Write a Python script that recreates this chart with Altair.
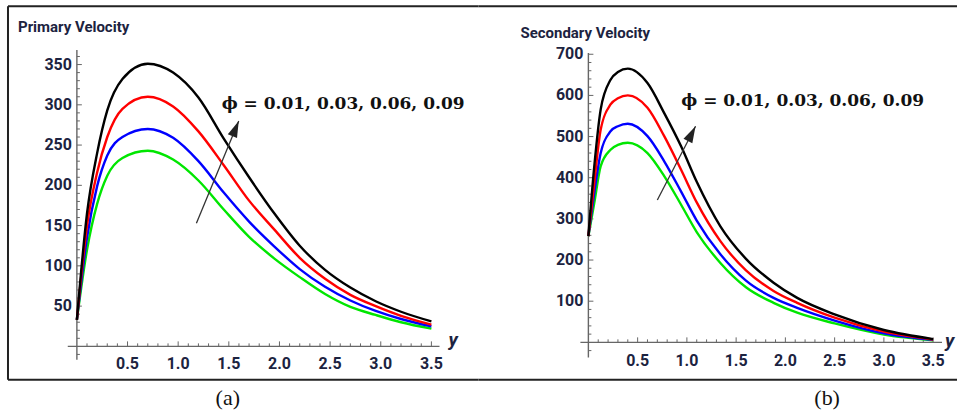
import altair as alt
import pandas as pd

# ---------------- data ----------------
phi_names = ["phi=0.01", "phi=0.03", "phi=0.06", "phi=0.09"]
line_colors = ["#00e600", "#0000ff", "#ff0000", "#000000"]

# Panel (a): Primary velocity
xa = [0, 0.1, 0.2, 0.3, 0.45, 0.7, 0.95, 1.2, 1.45, 1.7, 1.95, 2.2, 2.45, 2.7, 2.95, 3.2, 3.5]
a_green = [33, 120, 177, 212, 234, 243, 232, 206, 170, 136, 109, 86, 65, 49, 39, 30, 22]
a_blue = [33, 135, 199, 237, 260, 270, 259, 230, 191, 155, 124, 96, 74, 57, 44, 34, 25]
a_red = [33, 150, 216, 260, 295, 310, 298, 267, 225, 181, 145, 110, 84, 64, 50, 38, 27]
a_black = [33, 165, 240, 293, 332, 351, 340, 309, 258, 210, 165, 125, 95, 73, 56, 43, 31]

# Panel (b): Secondary velocity
xb = [0, 0.06, 0.125, 0.225, 0.3, 0.4, 0.6, 0.77, 0.94, 1.1, 1.34, 1.6, 1.88, 2.12, 2.5, 3.0, 3.5]
b_green = [258, 339, 428, 468, 480, 485, 460, 404, 335, 268, 193, 134, 96, 72, 46, 19, 5]
b_blue = [258, 363, 460, 513, 525, 531, 501, 440, 367, 296, 214, 150, 108, 84, 53, 22, 6]
b_red = [258, 388, 517, 578, 593, 600, 570, 501, 420, 340, 246, 175, 125, 96, 60, 26, 7]
b_black = [258, 428, 566, 638, 657, 665, 630, 557, 477, 390, 282, 203, 145, 108, 68, 30, 8]

# tick labels
a_yticks = [50, 100, 150, 200, 250, 300, 350]
b_yticks = [100, 200, 300, 400, 500, 600, 700]
x_ticks = [0.5, 1.0, 1.5, 2.0, 2.5, 3.0, 3.5]
a_yminor = [v for v in range(-10, 370, 10) if v % 50 != 0]
b_yminor = [v for v in range(-20, 710, 20) if v % 100 != 0]
x_minor = [round(i / 10, 1) for i in range(1, 36) if i % 5 != 0]

phi_label = "ϕ = 0.01, 0.03, 0.06, 0.09"

NARROW = "Roboto, 'Liberation Sans', sans-serif"
LABC = "#1c2340"
AXC = "#666666"


def long_df(x, series):
    rows = []
    for name, vals in zip(phi_names, series):
        for xi, yi in zip(x, vals):
            rows.append({"x": xi, "v": yi, "s": name})
    return pd.DataFrame(rows)


def panel(x, series, xs, ys, xaxis_ext, yaxis_ext, ymaj, ymin, xlab_dy,
          arrow, arrow_angle, phi_pos, title, title_xy, ylab_xy, caption, caption_xy,
          border_left):
    X = lambda f: alt.X(f, scale=xs, axis=None)
    Y = lambda f: alt.Y(f, scale=ys, axis=None)
    layers = []

    # border of the figure
    one = pd.DataFrame({"k": [0]})
    x0 = 8 if border_left else 0
    for yy in (6, 380):
        layers.append(alt.Chart(one).mark_rule(color="#222222", strokeWidth=2).encode(
            x=alt.value(x0), x2=alt.value(479), y=alt.value(yy)))
    if border_left:
        layers.append(alt.Chart(one).mark_rule(color="#222222", strokeWidth=2).encode(
            x=alt.value(8), y=alt.value(6), y2=alt.value(380)))

    # axis lines
    layers.append(alt.Chart(pd.DataFrame({"a": [xaxis_ext[0]], "b": [xaxis_ext[1]], "z": [0]}))
                  .mark_rule(color=AXC, strokeWidth=1.4)
                  .encode(x=X("a:Q"), x2="b:Q", y=Y("z:Q")))
    layers.append(alt.Chart(pd.DataFrame({"a": [yaxis_ext[0]], "b": [yaxis_ext[1]], "z": [0]}))
                  .mark_rule(color=AXC, strokeWidth=1.4)
                  .encode(y=Y("a:Q"), y2="b:Q", x=X("z:Q")))

    # y ticks
    layers.append(alt.Chart(pd.DataFrame({"t": ymaj, "z": 0}))
                  .mark_rule(color=AXC, strokeWidth=1, x2Offset=5)
                  .encode(x=X("z:Q"), x2="z:Q", y=Y("t:Q")))
    layers.append(alt.Chart(pd.DataFrame({"t": ymin, "z": 0}))
                  .mark_rule(color=AXC, strokeWidth=1, x2Offset=3)
                  .encode(x=X("z:Q"), x2="z:Q", y=Y("t:Q")))
    # x ticks
    layers.append(alt.Chart(pd.DataFrame({"t": x_ticks, "z": 0}))
                  .mark_rule(color=AXC, strokeWidth=1, y2Offset=-5)
                  .encode(y=Y("z:Q"), y2="z:Q", x=X("t:Q")))
    layers.append(alt.Chart(pd.DataFrame({"t": x_minor, "z": 0}))
                  .mark_rule(color=AXC, strokeWidth=1, y2Offset=-3)
                  .encode(y=Y("z:Q"), y2="z:Q", x=X("t:Q")))

    # tick labels
    layers.append(alt.Chart(pd.DataFrame({"t": ymaj, "z": 0}))
                  .mark_text(align="right", baseline="middle", dx=-5, font=NARROW,
                             fontSize=16, fontWeight="bold", color=LABC)
                  .encode(x=X("z:Q"), y=Y("t:Q"), text=alt.Text("t:Q", format="d")))
    layers.append(alt.Chart(pd.DataFrame({"t": x_ticks, "z": 0}))
                  .mark_text(align="center", baseline="middle", dy=xlab_dy, font=NARROW,
                             fontSize=16, fontWeight="bold", color=LABC)
                  .encode(x=X("t:Q"), y=Y("z:Q"), text=alt.Text("t:Q", format=".1f")))

    # curves
    layers.append(alt.Chart(long_df(x, series))
                  .mark_line(strokeWidth=2.4, interpolate="monotone")
                  .encode(x=X("x:Q"), y=Y("v:Q"),
                          color=alt.Color("s:N", scale=alt.Scale(domain=phi_names, range=line_colors),
                                          legend=None)))

    # arrow
    ad = pd.DataFrame({"x0": [arrow[0]], "y0": [arrow[1]], "x1": [arrow[2]], "y1": [arrow[3]]})
    layers.append(alt.Chart(ad).mark_rule(color="#333333", strokeWidth=1.3)
                  .encode(x=X("x0:Q"), y=Y("y0:Q"), x2="x1:Q", y2="y1:Q"))
    layers.append(alt.Chart(ad).mark_point(shape="M0,0 L0.3,1 L-0.3,1 Z", size=1100,
                                           angle=arrow_angle, filled=True, color="#222222",
                                           opacity=1, strokeWidth=0)
                  .encode(x=X("x1:Q"), y=Y("y1:Q")))

    # phi annotation
    layers.append(alt.Chart(pd.DataFrame({"x": [phi_pos[0]], "y": [phi_pos[1]], "t": [phi_label]}))
                  .mark_text(align="left", baseline="middle", font="DejaVu Serif",
                             fontWeight="bold", fontSize=17, color="#111111")
                  .encode(x=X("x:Q"), y=Y("y:Q"), text="t:N"))

    # title
    layers.append(alt.Chart(pd.DataFrame({"t": [title]}))
                  .mark_text(align="left", baseline="alphabetic", font=NARROW, fontSize=15,
                             fontWeight="bold", color=LABC)
                  .encode(x=alt.value(title_xy[0]), y=alt.value(title_xy[1]), text="t:N"))
    # axis variable "y"
    layers.append(alt.Chart(pd.DataFrame({"t": ["y"]}))
                  .mark_text(align="left", baseline="alphabetic", font=NARROW, fontSize=19,
                             fontWeight="bold", fontStyle="italic", color=LABC)
                  .encode(x=alt.value(ylab_xy[0]), y=alt.value(ylab_xy[1]), text="t:N"))
    # caption
    layers.append(alt.Chart(pd.DataFrame({"t": [caption]}))
                  .mark_text(align="center", baseline="middle", font="Liberation Serif",
                             fontSize=22, color="#111111")
                  .encode(x=alt.value(caption_xy[0]), y=alt.value(caption_xy[1]), text="t:N"))

    return alt.layer(*layers).properties(width=479, height=416)


xs_a = alt.Scale(domain=[-0.759, 3.965], nice=False, zero=False)
ys_a = alt.Scale(domain=[-86.2, 429.9], nice=False, zero=False)
xs_b = alt.Scale(domain=[-1.1156, 3.7424], nice=False, zero=False)
ys_b = alt.Scale(domain=[-178.4, 831.3], nice=False, zero=False)

pa = panel(xa, [a_green, a_blue, a_red, a_black], xs_a, ys_a,
           (-0.09, 3.58), (-16.7, 368), a_yticks, a_yminor, 18,
           (1.18, 153, 1.598, 280), 22.5, (1.43, 301),
           "Primary Velocity", (18, 32), (449, 346), "(a)", (228, 398), True)

pb = panel(xb, [b_green, b_blue, b_red, b_black], xs_b, ys_b,
           (-0.081, 3.59), (-37, 703), b_yticks, b_yminor, 19,
           (0.70, 346, 1.088, 525), 27.4, (0.943, 586),
           "Secondary Velocity", (42, 38), (467, 347), "(b)", (349, 398), False)

chart = alt.hconcat(pa, pb, spacing=0, bounds="flush").properties(
    padding=0, background="white"
).configure_view(strokeWidth=0)

chart.save("out.html", embed_options={"renderer": "svg", "actions": False})
